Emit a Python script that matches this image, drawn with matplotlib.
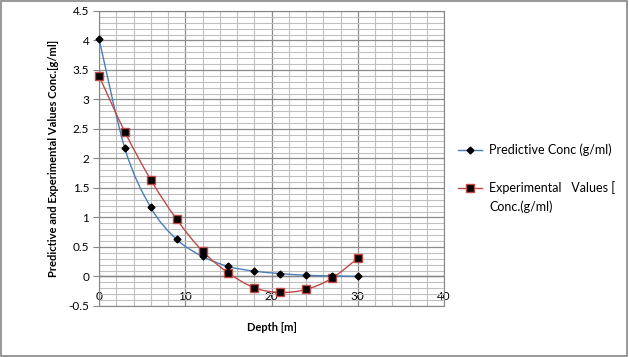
import matplotlib.pyplot as plt
from matplotlib.path import Path
from matplotlib.patches import PathPatch
from matplotlib.lines import Line2D
from matplotlib.patches import Rectangle
from matplotlib.ticker import MultipleLocator

plt.rcParams['font.family'] = ['Lato', 'DejaVu Sans']

# data
depth = [0, 3, 6, 9, 12, 15, 18, 21, 24, 27, 30]
predictive = [4.03, 2.17, 1.17, 0.63, 0.34, 0.17, 0.09, 0.05, 0.02, 0.01, 0.0]
experimental = [3.40, 2.45, 1.64, 0.97, 0.43, 0.06, -0.19, -0.27, -0.22, -0.03, 0.31]

blue = '#4a7ebb'
red = '#be4b48'


def smooth_path(xs, ys):
    # catmull-rom through the points, drawn as cubic bezier segments (like excel smoothed line)
    verts = [(xs[0], ys[0])]
    codes = [Path.MOVETO]
    n = len(xs)
    for i in range(n - 1):
        x0, y0 = (xs[i - 1], ys[i - 1]) if i > 0 else (xs[i], ys[i])
        x1, y1 = xs[i], ys[i]
        x2, y2 = xs[i + 1], ys[i + 1]
        x3, y3 = (xs[i + 2], ys[i + 2]) if i + 2 < n else (x2, y2)
        c1 = (x1 + (x2 - x0) / 6.0, y1 + (y2 - y0) / 6.0)
        c2 = (x2 - (x3 - x1) / 6.0, y2 - (y3 - y1) / 6.0)
        verts += [c1, c2, (x2, y2)]
        codes += [Path.CURVE4] * 3
    return Path(verts, codes)


fig = plt.figure(figsize=(6.29, 3.57), dpi=100)
fig.add_artist(Rectangle((0.002, 0.003), 0.995, 0.994, transform=fig.transFigure,
                         fill=False, edgecolor='#868686', linewidth=1.2))

ax = fig.add_axes([0.1574, 0.1429, 0.5485, 0.8263])
ax.set_xlim(0, 40)
ax.set_ylim(-0.5, 4.5)
ax.xaxis.set_major_locator(MultipleLocator(10))
ax.xaxis.set_minor_locator(MultipleLocator(2))
ax.yaxis.set_major_locator(MultipleLocator(0.5))
ax.yaxis.set_minor_locator(MultipleLocator(0.1))
ax.grid(which='minor', color='#c0c0c0', linewidth=0.8)
ax.grid(which='major', color='#8c8c8c', linewidth=0.9)
ax.set_axisbelow(True)
ax.axhline(0, color='#868686', linewidth=1.0, zorder=1)
for s in ax.spines.values():
    s.set_color('#868686')

ax.set_yticks([-0.5, 0, 0.5, 1, 1.5, 2, 2.5, 3, 3.5, 4, 4.5])
ax.set_yticklabels(['-0.5', '0', '0.5', '1', '1.5', '2', '2.5', '3', '3.5', '4', '4.5'])
ax.tick_params(axis='y', which='major', length=4, color='#868686', labelsize=8.5, pad=3)
ax.tick_params(axis='x', which='major', length=0, labelsize=8.5, pad=-11)
ax.tick_params(which='minor', length=0)

ax.add_patch(PathPatch(smooth_path(depth, predictive), fill=False, edgecolor=blue,
                       linewidth=1.0, zorder=3))
ax.add_patch(PathPatch(smooth_path(depth, experimental), fill=False, edgecolor=red,
                       linewidth=1.0, zorder=3))
ax.plot(depth, predictive, linestyle='none', marker='D', markersize=3.5,
        color='black', zorder=5, clip_on=False)
ax.plot(depth, experimental, linestyle='none', marker='s', markersize=5.2,
        markerfacecolor='black', markeredgecolor=red, markeredgewidth=1.0,
        zorder=4, clip_on=False)

ax.set_xlabel('Depth [m]', fontsize=8, fontweight='bold', labelpad=8)
ax.set_ylabel('Predictive and Experimental Values Conc.[g/ml]', fontsize=8,
              fontweight='bold', labelpad=7)

# legend drawn by hand so the marker sits on the first text line
W, H = 629.0, 357.0
def fx(px):
    return px / W
def fy(py):
    return 1 - py / H

fig.add_artist(Line2D([fx(458), fx(482)], [fy(150), fy(150)], color=blue, linewidth=1.0))
fig.add_artist(Line2D([fx(470)], [fy(150)], marker='D', markersize=3.5, color='black'))
fig.text(fx(489), fy(150), 'Predictive Conc (g/ml)', fontsize=9, va='center')

fig.add_artist(Line2D([fx(458), fx(482)], [fy(188), fy(188)], color=red, linewidth=1.0))
fig.add_artist(Line2D([fx(470)], [fy(188)], marker='s', markersize=5.2,
                      markerfacecolor='black', markeredgecolor=red))
fig.text(fx(489), fy(188), 'Experimental   Values [', fontsize=9, va='center')
fig.text(fx(489), fy(207), 'Conc.(g/ml)', fontsize=9, va='center')

plt.savefig('out.png', dpi=100)
